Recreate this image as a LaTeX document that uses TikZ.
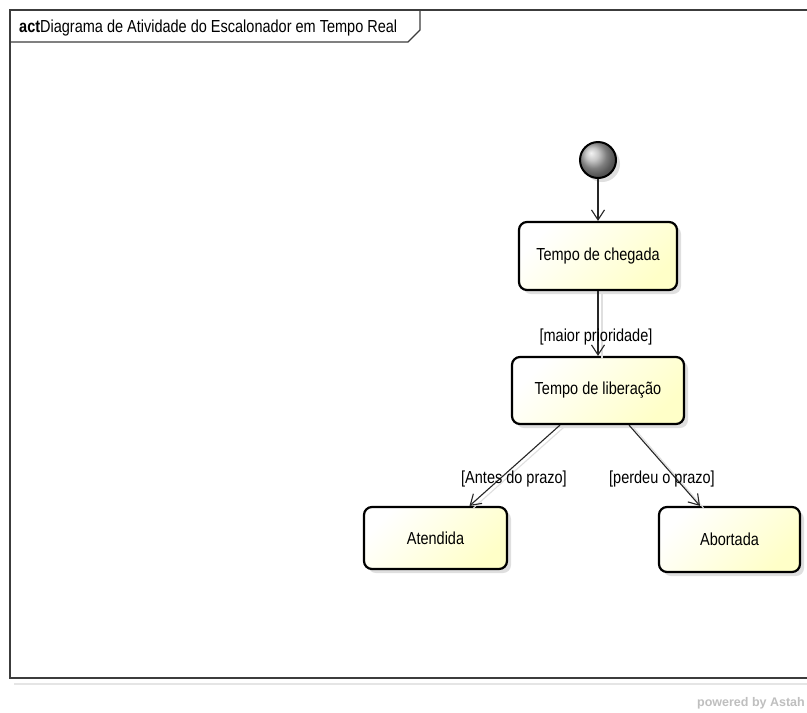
\documentclass[tikz,border=0pt]{standalone}
\usepackage{graphicx}
\usepackage{fontspec}
\setmainfont{Liberation Sans}
\usetikzlibrary{arrows.meta,shadows,calc}
\definecolor{boxyellow}{RGB}{255,255,200}
\definecolor{framegray}{RGB}{60,60,60}
% slightly tall lettering
\newcommand{\talltxt}[1]{\scalebox{1}[1.2]{#1}}
\tikzset{
  actbox/.style={draw=black, line width=2.2pt, rounded corners=8pt,
    top color=white, bottom color=boxyellow, shading angle=45,
    drop shadow={opacity=0.25, shadow xshift=4pt, shadow yshift=-4pt},
    font=\fontsize{14.5}{16}\selectfont, inner sep=0pt},
  startnode/.style={circle, draw=black, line width=2pt, minimum size=36pt,
    inner sep=0pt, ball color=gray!60,
    drop shadow={opacity=0.25, shadow xshift=4pt, shadow yshift=-4pt}},
  flow/.style={draw=black!85, line width=1.1pt,
    -{Straight Barb[length=10pt,width=13pt,line width=1.1pt]}},
  flowshade/.style={draw=gray!25, line width=1.1pt},
  guard/.style={font=\fontsize{14.5}{16}\selectfont, inner sep=0pt}
}
\begin{document}
\begin{tikzpicture}[x=1pt,y=-1pt]
\useasboundingbox (0,0) rectangle (807,713);
\fill[white] (0,0) rectangle (807,713);

% diagram frame with its name tab
\draw[gray!20, line width=2pt] (14,684) -- (830,684);
\draw[framegray, line width=1.3pt] (10,10) rectangle (830,678);
\draw[framegray, line width=1.3pt] (10,42) -- (408,42) -- (420,30) -- (420,10);
\node[anchor=base west, inner sep=0pt, font=\fontsize{14.5}{16}\selectfont]
  (title) at (19,32) {\talltxt{\textbf{act}Diagrama de Atividade do Escalonador em Tempo Real}};

% activity nodes
\node[startnode] (ini) at (598,160) {};
\node[actbox, minimum width=158pt, minimum height=68pt] (cheg) at (598,256) {\talltxt{Tempo de chegada}};
\node[actbox, minimum width=172pt, minimum height=67pt] (lib) at (598,390.5) {\talltxt{Tempo de liberação}};
\node[actbox, minimum width=143pt, minimum height=62pt] (at) at (435.5,538) {\talltxt{Atendida}};
\node[actbox, minimum width=141pt, minimum height=65pt] (ab) at (729.5,539.5) {\talltxt{Abortada}};

% faint shadows of the transitions
\draw[flowshade] ($(lib.south)+(-34,2)$) -- ($(at.north)+(38,2)$);
\draw[flowshade] ($(lib.south)+(35,2)$) -- ($(ab.north)+(-26,2)$);
\draw[flowshade] ($(cheg.south)+(4,2)$) -- ($(lib.north)+(4,2)$);

% transitions
\draw[flow] (ini) -- (cheg);
\draw[flow] (cheg) -- (lib);
\draw[flow] ($(lib.south)+(-38,0)$) -- ($(at.north)+(34,0)$);
\draw[flow] ($(lib.south)+(31,0)$) -- ($(ab.north)+(-29.5,0)$);

% guards
\node[guard] (g1) at (596,337) {\talltxt{[maior prioridade]}};
\node[guard] (g2) at (514,479) {\talltxt{[Antes do prazo]}};
\node[guard] (g3) at (662,479) {\talltxt{[perdeu o prazo]}};

\node[anchor=base east, inner sep=0pt, text=gray!50,
  font=\fontsize{12.5}{14}\selectfont\bfseries] (pw) at (805,706) {powered by Astah};
\end{tikzpicture}
\end{document}
